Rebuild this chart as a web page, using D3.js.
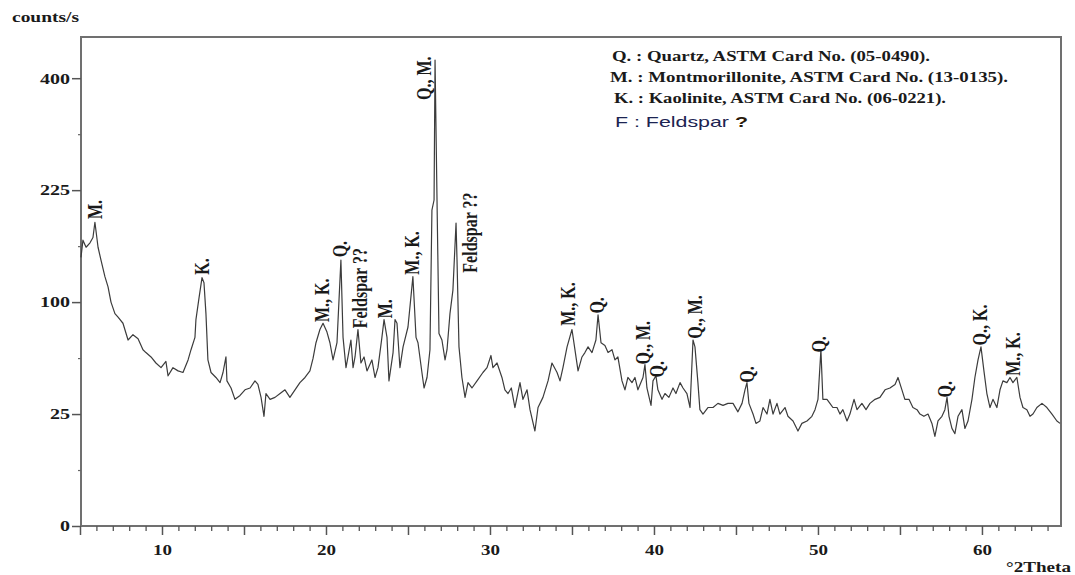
<!DOCTYPE html>
<html><head><meta charset="utf-8">
<script src="https://cdn.jsdelivr.net/npm/d3@7"></script>
<style>body{margin:0;background:#fff}svg{display:block}</style>
</head><body>
<svg id="chart" width="1075" height="575"></svg>
<script>
// ---- data ----
const twoTheta = [5.06,5.18,5.37,5.61,5.79,5.91,6.10,6.28,6.52,6.71,6.89,7.13,7.32,7.62,7.93,8.23,8.54,8.84,9.02,9.33,9.63,9.94,10.24,10.37,10.67,10.98,11.28,11.59,11.77,12.01,12.07,12.26,12.44,12.56,12.68,12.80,12.99,13.29,13.54,13.72,13.90,13.96,14.21,14.45,14.76,15.06,15.37,15.67,15.85,16.04,16.22,16.34,16.59,16.89,17.20,17.50,17.80,18.11,18.41,18.72,19.02,19.21,19.39,19.63,19.82,20.06,20.24,20.43,20.67,20.91,21.04,21.22,21.34,21.52,21.65,21.77,21.95,22.13,22.32,22.50,22.80,22.99,23.17,23.41,23.54,23.72,23.84,24.09,24.21,24.33,24.51,24.70,25.00,25.30,25.49,25.61,25.85,25.98,26.16,26.34,26.46,26.59,26.65,26.77,26.89,27.07,27.26,27.38,27.56,27.74,27.93,27.99,28.11,28.29,28.48,28.66,28.90,29.21,29.57,29.82,30.06,30.18,30.43,30.73,30.91,31.10,31.30,31.52,31.83,32.01,32.26,32.44,32.74,32.93,33.23,33.54,33.78,34.09,34.27,34.45,34.70,35.00,35.18,35.37,35.61,35.79,35.98,36.22,36.46,36.59,36.77,37.01,37.20,37.44,37.62,37.80,38.05,38.23,38.41,38.66,38.84,39.02,39.33,39.45,39.57,39.82,39.94,40.12,40.24,40.49,40.67,40.91,41.16,41.34,41.59,41.77,42.01,42.20,42.38,42.50,42.68,42.80,42.99,43.29,43.60,43.90,44.21,44.51,44.82,45.12,45.37,45.55,45.67,45.79,46.04,46.22,46.46,46.65,46.89,47.07,47.26,47.50,47.68,47.99,48.17,48.48,48.78,49.02,49.33,49.63,49.82,50.00,50.18,50.30,50.55,50.73,50.91,51.16,51.34,51.52,51.77,51.95,52.20,52.38,52.68,52.93,53.17,53.48,53.78,54.09,54.39,54.70,54.88,55.12,55.30,55.55,55.79,56.04,56.22,56.46,56.71,56.95,57.13,57.32,57.56,57.74,57.87,57.99,58.17,58.35,58.54,58.78,58.96,59.15,59.39,59.57,59.76,59.94,60.12,60.30,60.49,60.67,60.91,61.10,61.28,61.52,61.71,61.89,62.13,62.32,62.50,62.74,62.93,63.11,63.35,63.66,63.96,64.27,64.57,64.76];
const counts = [144,163,155,160,166,184,155,141,124,114,100,90,87,82,69,73,70,62,60,57,53,50,54,45,50,48,47,55,62,71,85,104,123,118,90,55,47,44,41,47,57,42,38,32,34,37,38,42,40,33,24,35,32,33,35,37,33,37,41,44,48,56,67,77,82,75,67,55,67,141,71,50,57,69,50,57,77,53,57,48,55,44,50,71,85,71,42,60,85,82,50,64,79,124,71,67,47,38,44,62,199,212,433,212,74,69,55,62,90,111,183,141,64,44,33,41,38,42,47,50,58,50,53,44,37,35,38,28,41,32,37,27,18,28,33,42,53,47,42,50,64,77,62,48,57,60,64,60,69,89,67,65,60,62,55,57,42,37,44,41,44,37,44,52,38,29,42,45,37,32,35,33,38,35,41,38,35,28,69,64,41,27,25,28,28,30,29,30,30,26,30,37,41,30,25,21,22,28,25,32,25,30,25,28,24,22,18,21,22,24,27,32,62,32,32,30,28,28,25,27,22,25,32,27,30,27,30,32,33,37,38,40,44,37,32,32,28,27,25,24,25,21,16,22,24,27,33,24,19,17,24,27,19,22,32,44,55,64,48,35,28,32,28,37,42,41,44,41,44,33,28,27,24,25,28,30,28,25,22,21];

const yTickValues = [0, 25, 100, 225, 400];
const yMinorValues = [6.25, 56.25, 156.25, 306.25];
const xTickLabels = [10, 20, 30, 40, 50, 60];

const peakLabels = ["M.","K.","M., K.","Q.","Feldspar ??","M.","M., K.","Q., M.","Feldspar ??","M., K.","Q.","Q., M.","Q.","Q., M.","Q.","Q.","Q.","Q., K.","M., K."];
const peakTheta  = [5.91,12.44,19.76,20.85,22.07,23.60,25.24,25.98,28.78,34.76,36.52,39.33,40.18,42.50,45.67,50.06,57.74,59.88,61.89];
const peakCounts = [188,126,83,144,78,86,126,362,128,80,90,52,44,70,41,60,33,65,45];

const legendLines = ["Q. : Quartz, ASTM Card No. (05-0490).",
                     "M. : Montmorillonite, ASTM Card No. (13-0135).",
                     "K. : Kaolinite, ASTM Card No. (06-0221)."];
const legendExtra = "F : Feldspar ";
const yTitle = "counts/s";
const xTitle = "°2Theta";

// ---- drawing ----
const svg = d3.select("#chart");
const L = 81, T = 37, R = 1061, B = 526;
const x = d3.scaleLinear().domain([5, 64.82]).range([80, R]);
const y = d3.scaleSqrt().domain([0, 477]).range([B, T]);
const serif = "'Liberation Serif','Times New Roman',serif";

// frame
svg.append("rect").attr("x", L).attr("y", T).attr("width", R - L).attr("height", B - T)
  .attr("fill", "none").attr("stroke", "#707070").attr("stroke-width", 2);

// y axis
const gy = svg.append("g").attr("transform", `translate(${L},0)`)
  .call(d3.axisLeft(y).tickValues(yTickValues).tickSize(9).tickFormat(d3.format("d")));
gy.select(".domain").remove();
gy.selectAll("line").attr("stroke", "#555").attr("stroke-width", 1.5);
gy.selectAll("text").attr("font-family", serif).attr("font-weight", "bold").attr("font-size", 15)
  .attr("fill", "#1a1a1a").attr("x", -11)
  .attr("textLength", d => String(d).length * 10).attr("lengthAdjust", "spacingAndGlyphs");
const gym = svg.append("g").attr("transform", `translate(${L},0)`)
  .call(d3.axisLeft(y).tickValues(yMinorValues).tickSize(3).tickFormat(""));
gym.select(".domain").remove();
gym.selectAll("line").attr("stroke", "#666").attr("stroke-width", 1.2);

// x axis
const gxm = svg.append("g").attr("transform", `translate(0,${B})`)
  .call(d3.axisBottom(x).tickValues(d3.range(6, 65, 1).filter(d => d % 5 !== 0)).tickSize(5).tickFormat(""));
gxm.select(".domain").remove();
gxm.selectAll("line").attr("stroke", "#555").attr("stroke-width", 1.3);
const gx = svg.append("g").attr("transform", `translate(0,${B})`)
  .call(d3.axisBottom(x).tickValues(d3.range(5, 65, 5)).tickSize(9)
    .tickFormat(d => xTickLabels.includes(d) ? d : ""));
gx.select(".domain").remove();
gx.selectAll("line").attr("stroke", "#555").attr("stroke-width", 1.5);
gx.selectAll("text").attr("font-family", serif).attr("font-weight", "bold").attr("font-size", 15)
  .attr("fill", "#1a1a1a").attr("y", 18)
  .attr("textLength", d => xTickLabels.includes(d) ? 19 : null).attr("lengthAdjust", "spacingAndGlyphs");

// trace
const pts = twoTheta.map((t, i) => [t, counts[i]]);
svg.append("path").datum(pts)
  .attr("d", d3.line().x(d => x(d[0])).y(d => y(d[1])))
  .attr("fill", "none").attr("stroke", "#3c3c3c").attr("stroke-width", 1.2)
  .attr("stroke-linejoin", "round");

// peak labels
peakLabels.forEach((lab, i) => {
  svg.append("text")
    .attr("transform", `translate(${x(peakTheta[i])},${y(peakCounts[i])}) scale(1.25,1) rotate(-90)`)
    .attr("dy", "0.35em").attr("text-anchor", "start")
    .attr("font-family", serif).attr("font-weight", "bold").attr("font-size", 16)
    .attr("fill", "#1a1a1a").text(lab);
});

// titles
svg.append("text").attr("x", 12).attr("y", 22).text(yTitle)
  .attr("font-family", serif).attr("font-weight", "bold").attr("font-size", 14).attr("fill", "#1a1a1a")
  .attr("textLength", 67).attr("lengthAdjust", "spacingAndGlyphs");
svg.append("text").attr("x", 1006).attr("y", 572).text(xTitle)
  .attr("font-family", serif).attr("font-weight", "bold").attr("font-size", 15).attr("fill", "#1a1a1a")
  .attr("textLength", 65).attr("lengthAdjust", "spacingAndGlyphs");

// legend
const legX = [612, 610, 614], legY = [61, 82, 103], legW = [318, 398, 332];
legendLines.forEach((s, i) => {
  svg.append("text").attr("x", legX[i]).attr("y", legY[i]).text(s)
    .attr("font-family", serif).attr("font-weight", "bold").attr("font-size", 15).attr("fill", "#1a1a1a")
    .attr("textLength", legW[i]).attr("lengthAdjust", "spacingAndGlyphs");
});
const ft = svg.append("text").attr("x", 615).attr("y", 127)
  .attr("font-family", "'Liberation Sans',Arial,sans-serif").attr("font-size", 15)
  .attr("textLength", 133).attr("lengthAdjust", "spacingAndGlyphs");
ft.append("tspan").attr("fill", "#1c2452").text(legendExtra);
ft.append("tspan").attr("fill", "#2a1a0a").attr("font-weight", "bold").text("?");
</script>
</body></html>
